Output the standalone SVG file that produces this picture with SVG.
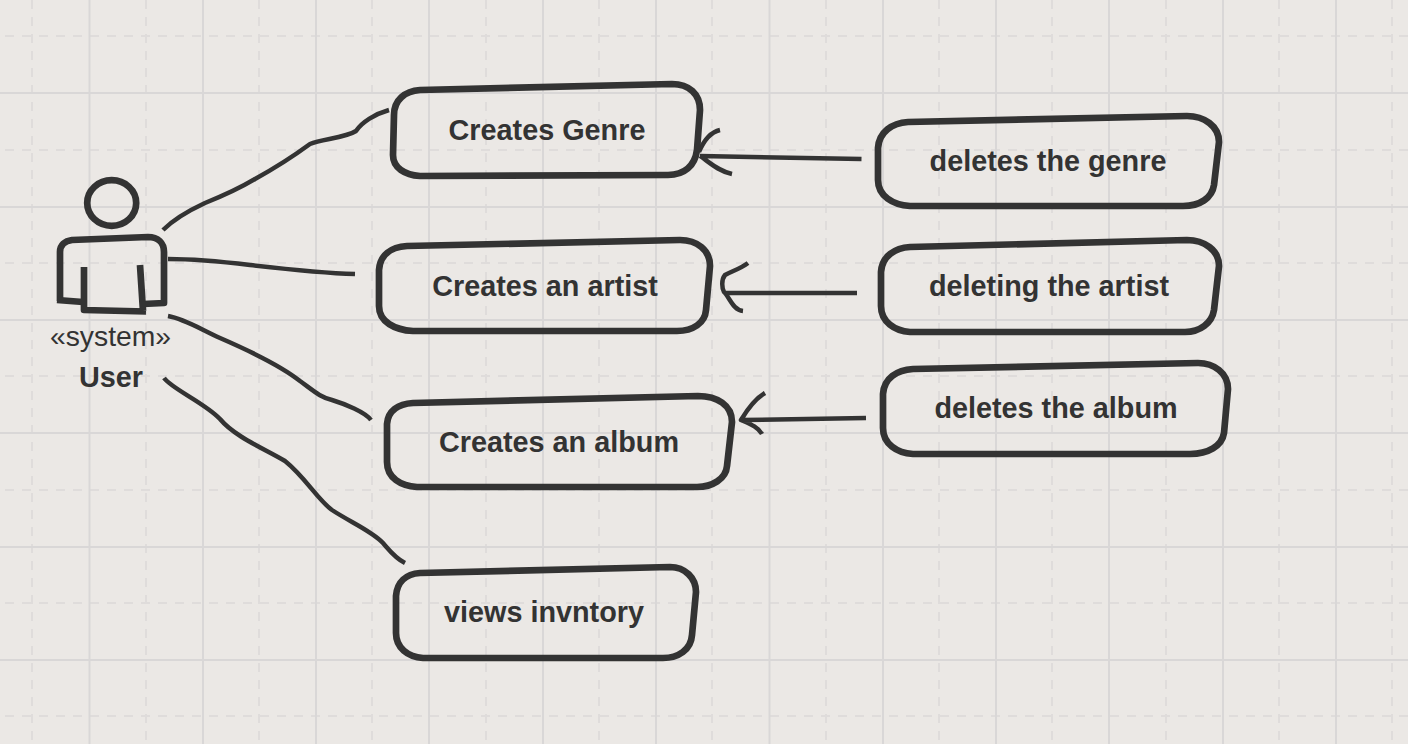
<svg xmlns="http://www.w3.org/2000/svg" width="1408" height="744" viewBox="0 0 1408 744">
<style>
.bg{fill:#ebe8e5}
.gs{stroke:#d9d7d7;stroke-width:2;fill:none}
.gd{stroke:#dfdcdb;stroke-width:2;fill:none;stroke-dasharray:9 8}
.n{fill:none;stroke:#333;stroke-width:6.700;stroke-linejoin:round}
.c{fill:none;stroke:#333;stroke-width:4.500;stroke-linecap:butt;stroke-linejoin:round}
text{font-family:"Liberation Sans",Arial,sans-serif;fill:#333;text-anchor:middle}
.t{font-size:28.800px;font-weight:bold}
.s{font-size:28.300px}
</style>
<rect class="bg" width="1408" height="744"/>
<g id="grid">
<path class="gd" d="M5 36H1408M5 150H1408M5 263H1408M5 376H1408M5 490H1408M5 603H1408M5 716H1408M32 0V744M146 0V744M259 0V744M372 0V744M486 0V744M599 0V744M712 0V744M826 0V744M939 0V744M1052 0V744M1166 0V744M1279 0V744M1392 0V744"/>
<path class="gs" d="M0 93H1408M0 207H1408M0 320H1408M0 433H1408M0 547H1408M0 660H1408M89.500 0V744M203 0V744M316 0V744M429 0V744M543 0V744M656 0V744M769.500 0V744M883 0V744M996 0V744M1109 0V744M1223 0V744M1336 0V744"/>
</g>
<g id="connectors">
<path class="c" d="M163 230C175 218 190 210 205 203C225 195 240 188 255 179C275 168 295 155 310 144C322 139 345 138 356 131C362 122 375 114 389 110"/>
<path class="c" d="M168 259C195 259 225 262 250 265C285 269 320 273 355 274"/>
<path class="c" d="M168 316C185 319 200 329 220 338C250 351 280 365 300 381C315 392 320 397 332 400C345 404 365 412 371 420"/>
<path class="c" d="M164 378C172 389 205 403 220 419C235 437 265 449 285 461C305 477 318 500 332 510C350 522 372 531 383 543C390 551 395 558 405 563"/>
<path class="c" d="M861.500 159L700 156M720 130C711 132 704 140 699 152M732 174C718 171 709 162 700 156"/>
<path class="c" d="M857 293H724M748 263C740 269 732 271 725 275C721 280 722 288 724 292C730 298 733 310 743 311"/>
<path class="c" d="M866 418L741 420M765 393C755 399 747 410 741 420C750 424 758 427 762 434"/>
</g>
<g id="actor-user">
<ellipse class="n" cx="111.700" cy="203" rx="24.500" ry="22.800"/>
<path class="n" d="M60 301V252C60 245 65 241 72 240L148 237C158 237 164 243 164 252V303L143 304"/>
<path class="n" d="M57 300L83 302"/>
<path class="n" d="M84 267V310L146 311.500M140 265L143 311"/>
<text class="s" x="110.500" y="346">«system»</text>
<text class="t" x="111" y="387">User</text>
</g>
<g id="node-creates-genre">
<path class="n" d="M394 115C394 100 405 91 420 90L672 84C689 84 700 94 700 110L697 150C695 166 684 175 668 175L420 176C405 175 393 168 393 155Z"/>
<text class="t" x="547" y="140">Creates Genre</text>
</g>
<g id="node-creates-artist">
<path class="n" d="M379 270C380 255 391 247 407 246L680 240C697 240 710 250 710 266L706 310C705 323 693 331 677 331L413 331C395 330 379 322 379 306Z"/>
<text class="t" x="545" y="296">Creates an artist</text>
</g>
<g id="node-creates-album">
<path class="n" d="M387 424C388 411 398 404 413 403L698 396C717 396 732 405 732 422L727 466C726 479 712 487 697 487L417 487C401 486 387 478 387 462Z"/>
<text class="t" x="559" y="452">Creates an album</text>
</g>
<g id="node-views-invntory">
<path class="n" d="M396 596C397 582 406 574 420 573L670 567C685 567 696 578 696 592L692 635C691 650 678 658 663 658L423 658C408 657 396 648 396 633Z"/>
<text class="t" x="544" y="622">views invntory</text>
</g>
<g id="node-deletes-genre">
<path class="n" d="M878 148C879 132 892 123 908 122L1187 116C1204 116 1219 126 1219 142L1214 185C1212 198 1200 206 1183 206L910 206C893 205 878 196 878 180Z"/>
<text class="t" x="1048" y="171">deletes the genre</text>
</g>
<g id="node-deleting-artist">
<path class="n" d="M881 272C882 256 895 248 910 247L1187 240C1204 240 1219 250 1219 266L1214 310C1212 323 1200 332 1185 332L910 332C895 331 881 322 881 306Z"/>
<text class="t" x="1049" y="296">deleting the artist</text>
</g>
<g id="node-deletes-album">
<path class="n" d="M883 394C884 378 897 370 913 369L1198 363C1214 363 1228 373 1228 389L1224 433C1222 446 1208 454 1190 454L913 454C897 453 883 444 883 428Z"/>
<text class="t" x="1056" y="418">deletes the album</text>
</g>
</svg>
